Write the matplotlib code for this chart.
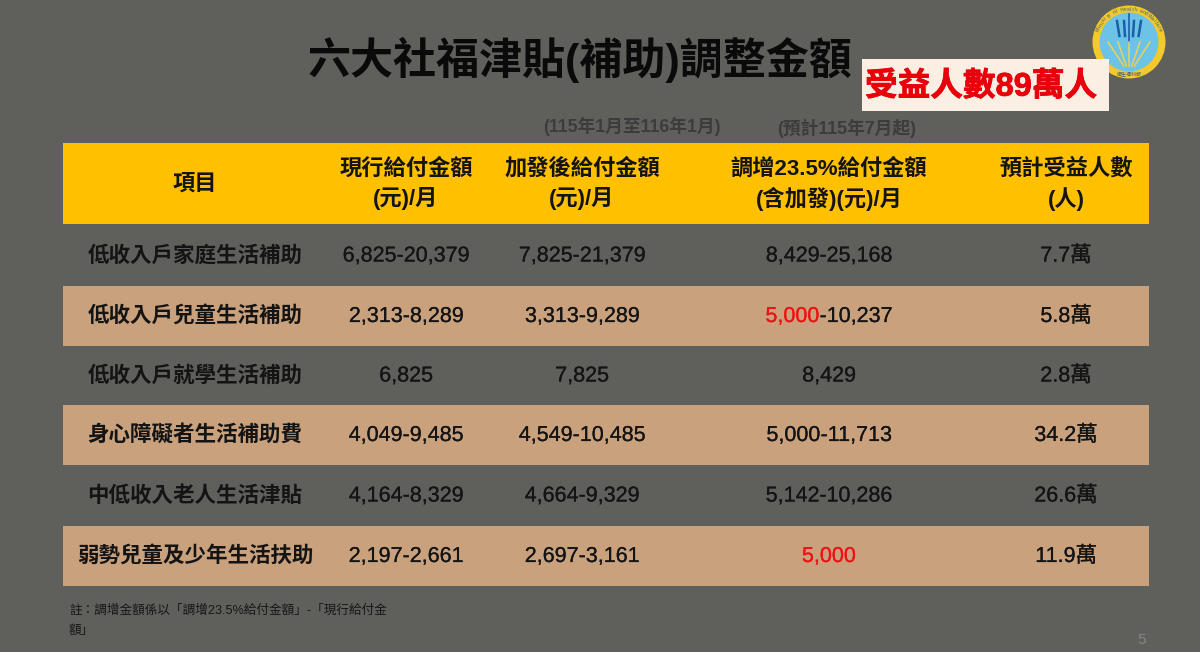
import matplotlib
matplotlib.use('Agg')
import matplotlib.pyplot as plt
from matplotlib.patches import Circle, Rectangle
import matplotlib.patheffects as pe
import numpy as np

plt.rcParams['font.family'] = ['Liberation Sans', 'Noto Sans CJK TC', 'DejaVu Sans']

title = '六大社福津貼(補助)調整金額'
badge = '受益人數89萬人'
headers = ['項目', '現行給付金額', '加發後給付金額', '調增23.5%給付金額', '預計受益人數']
headers2 = ['', '(元)/月', '(元)/月', '(含加發)(元)/月', '(人)']
items = ['低收入戶家庭生活補助', '低收入戶兒童生活補助', '低收入戶就學生活補助',
         '身心障礙者生活補助費', '中低收入老人生活津貼', '弱勢兒童及少年生活扶助']
current = ['6,825-20,379', '2,313-8,289', '6,825', '4,049-9,485', '4,164-8,329', '2,197-2,661']
bonus = ['7,825-21,379', '3,313-9,289', '7,825', '4,549-10,485', '4,664-9,329', '2,697-3,161']
raised_low = ['8,429', '5,000', '8,429', '5,000', '5,142', '5,000']
raised_high = ['25,168', '10,237', '', '11,713', '10,286', '']
raised_red = [False, True, False, False, False, True]
people = ['7.7萬', '5.8萬', '2.8萬', '34.2萬', '26.6萬', '11.9萬']
note_lines = ['註：調增金額係以「調增23.5%給付金額」-「現行給付金', '額」']
period_notes = ['(115年1月至116年1月)', '(預計115年7月起)']

BG = '#5f5f5b'
YELLOW = '#ffc000'
TAN = '#c9a17d'
INK = '#141414'
THICK = [pe.withStroke(linewidth=0.15, foreground=INK)]

fig = plt.figure(figsize=(12, 6.52), dpi=100, facecolor=BG)
ax = fig.add_axes([0, 0, 1, 1])
ax.set_xlim(0, 1200)
ax.set_ylim(652, 0)
ax.axis('off')

# table background
col_x = [195, 406, 582, 829, 1066]
row_edges = [225, 286, 346, 405, 465, 526, 586]
ax.add_patch(Rectangle((63, 143), 1086, 81, color=YELLOW, lw=0))
for i in range(len(items)):
    if i % 2 == 1:
        ax.add_patch(Rectangle((63, row_edges[i]), 1086, row_edges[i + 1] - row_edges[i], color=TAN, lw=0))

ax.text(580, 60, title, fontsize=31, fontweight='bold', color='#0a0a0a', ha='center', va='center')

for x, h, h2 in zip(col_x, headers, headers2):
    if h2:
        ax.text(x, 169, h, fontsize=16, fontweight='bold', color=INK, ha='center', va='center')
        ax.text(x, 199, h2, fontsize=16, fontweight='bold', color=INK, ha='center', va='center')
    else:
        ax.text(x, 184, h, fontsize=16, fontweight='bold', color=INK, ha='center', va='center')

ax.text(632, 126, period_notes[0], fontsize=12.8, fontweight='bold', color='#3c3c3c', ha='center', va='center')
ax.text(847, 128, period_notes[1], fontsize=12.8, fontweight='bold', color='#3c3c3c', ha='center', va='center')

fig.canvas.draw()
renderer = fig.canvas.get_renderer()

for i in range(len(items)):
    y = (row_edges[i] + row_edges[i + 1]) / 2 + 0.5
    ax.text(col_x[0], y, items[i], fontsize=15.5, fontweight='bold', color=INK, ha='center', va='center')
    ax.text(col_x[1], y, current[i], fontsize=15.5, color=INK, ha='center', va='center', path_effects=THICK)
    ax.text(col_x[2], y, bonus[i], fontsize=15.5, color=INK, ha='center', va='center', path_effects=THICK)
    ax.text(col_x[4], y, people[i], fontsize=15.5, color=INK, ha='center', va='center', path_effects=THICK)
    low_color = '#ee1111' if raised_red[i] else INK
    low_fx = [pe.withStroke(linewidth=0.15, foreground=low_color)]
    if raised_high[i]:
        # two colours on one line, so measure both parts first
        rest = '-' + raised_high[i]
        t1 = ax.text(0, y, raised_low[i], fontsize=15.5, color=low_color, ha='left', va='center', path_effects=low_fx)
        t2 = ax.text(0, y, rest, fontsize=15.5, color=INK, ha='left', va='center', path_effects=THICK)
        w1 = t1.get_window_extent(renderer).width
        w2 = t2.get_window_extent(renderer).width
        start = col_x[3] - (w1 + w2) / 2
        t1.set_x(start)
        t2.set_x(start + w1)
    else:
        ax.text(col_x[3], y, raised_low[i], fontsize=15.5, color=low_color, ha='center', va='center', path_effects=low_fx)

ax.text(69, 611, note_lines[0], fontsize=9.05, color='#161616', ha='left', va='center')
ax.text(69, 631, note_lines[1], fontsize=9.05, color='#161616', ha='left', va='center')
ax.text(1142, 640, '5', fontsize=11, color='#858585', ha='center', va='center')

# logo
cx, cy = 1129, 42
ax.add_patch(Circle((cx, cy), 36.5, color='#f4c92c', lw=0))
ax.add_patch(Circle((cx, cy), 29.5, color='#6cc3e6', lw=0))
ax.plot([cx, cx], [14, 42], color='#1b5fa8', lw=1.2)
for dx in (-12, -5, 5, 12):
    ax.plot([cx + dx, cx + dx * 0.8], [21, 36], color='#1b5fa8', lw=1.8)
for dx in (-21, -11, 0, 11, 21):
    ax.plot([cx + dx * 0.25, cx + dx], [66, 42], color='#e9d25a', lw=1.1)
for ch, ang in zip('Ministry of Health and Welfare', np.linspace(-68, 68, 30)):
    r = np.radians(ang)
    ax.text(cx + 33 * np.sin(r), cy - 33 * np.cos(r), ch, fontsize=3.6, color='#3a5a80',
            rotation=-ang, ha='center', va='center')
ax.text(cx, cy + 33, '衛生福利部', fontsize=3.6, color='#3a5a80', ha='center', va='center')

# red badge on top of the logo edge
ax.add_patch(Rectangle((862, 59), 247, 52, color='#fbeee3', lw=0))
ax.text(981, 87, badge, fontsize=23.5, fontweight='bold', color='#e8000b', ha='center', va='center',
        path_effects=[pe.withStroke(linewidth=0.6, foreground='#e8000b')])

fig.savefig('out.png', dpi=100, facecolor=BG)
